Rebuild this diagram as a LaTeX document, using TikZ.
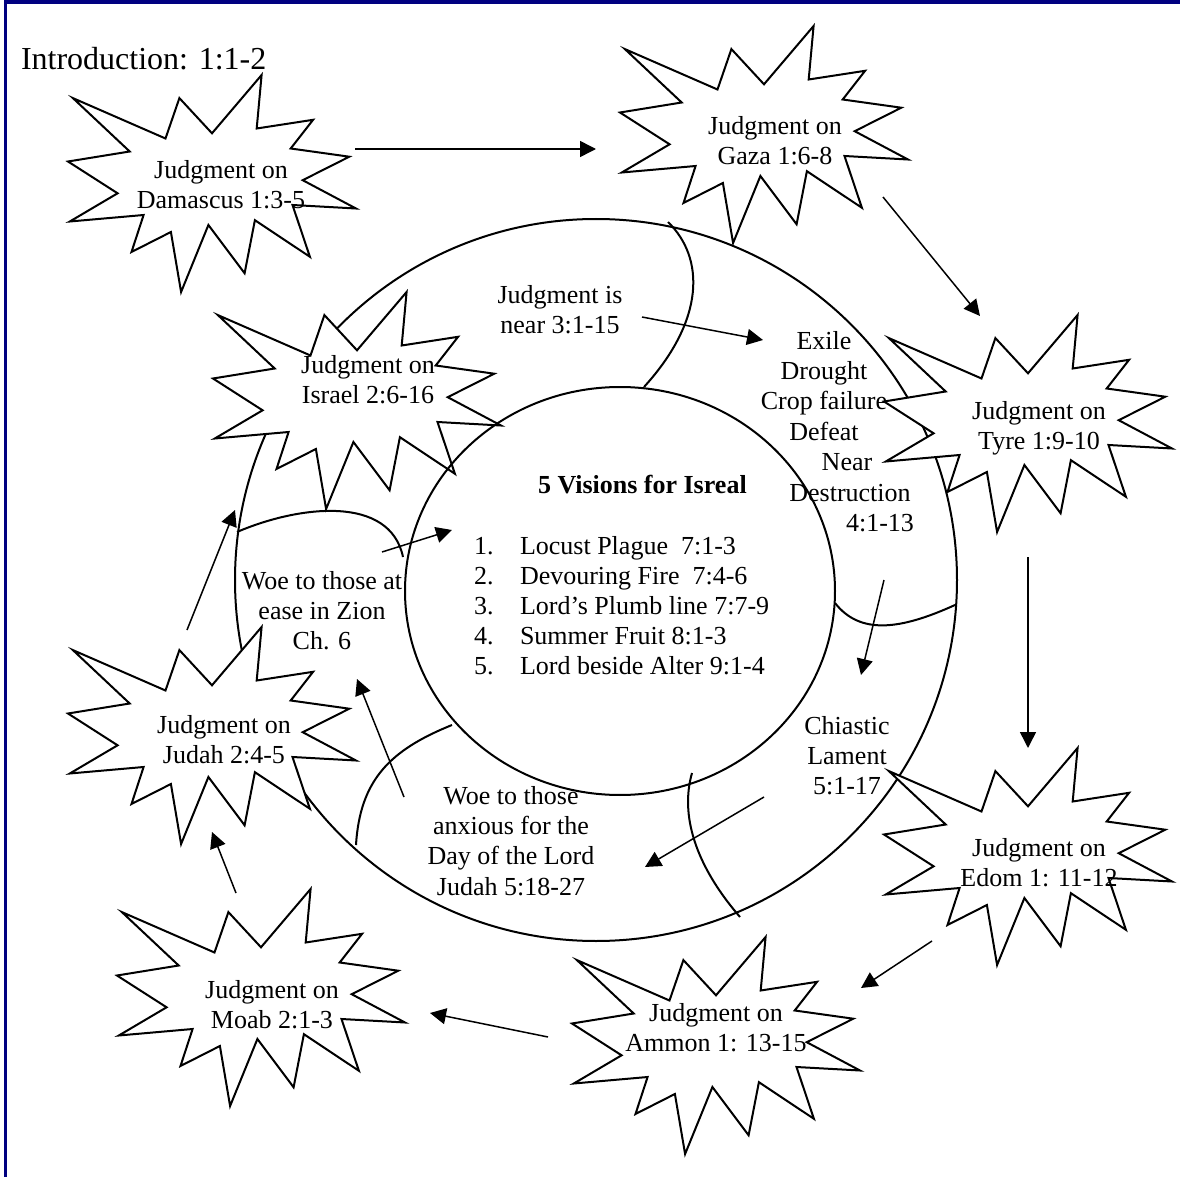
\documentclass[tikz,border=0pt]{standalone}
\usepackage{fontspec}
\setmainfont{Liberation Serif}
\usetikzlibrary{arrows.meta}

\definecolor{framenavy}{RGB}{0,0,128}

\tikzset{
  burst/.pic={
    \draw[fill=white] (144,58.3) -- (193.6,0) -- (188.7,53.5) -- (245.1,44.8) -- (222.7,73.5)
      -- (281.3,81.7) -- (234.7,105.2) -- (288,133.5) -- (224.5,130) -- (241.9,181.8)
      -- (186.9,145.2) -- (176.6,198.3) -- (140.4,150) -- (113.1,217) -- (102.9,157)
      -- (63.5,177) -- (75.6,140) -- (1.8,146.5) -- (49.6,118.3) -- (0,86.5)
      -- (61.7,76.5) -- (4.9,23.1) -- (97.5,63.5) -- (111.4,23.1) -- cycle;
  },
  burstlabel/.style={font=\fontsize{13}{15.2}\selectfont,align=center,anchor=north,inner sep=0pt},
  ringlabel/.style={font=\fontsize{13}{15.2}\selectfont,align=center,anchor=north,inner sep=0pt},
  listtext/.style={font=\fontsize{13}{15}\selectfont,anchor=base west,inner sep=0pt},
  flow/.style={-{Triangle[length=8pt,width=8pt]},line width=0.75pt},
}

\begin{document}
\begin{tikzpicture}[x=0.5pt,y=-0.5pt,line width=1pt]
\useasboundingbox (0,0) rectangle (1180,1177);

% frame
\fill[framenavy] (4,0) rectangle (1180,4);
\fill[framenavy] (4,0) rectangle (7,1177);

\node[anchor=base west,inner sep=0pt,font=\fontsize{16}{19}\selectfont] (intro) at (20,70) {Introduction: 1:1-2};

% ring
\coordinate (ringc) at (596,580);
\draw (ringc) circle [radius=361];

% dividers
\draw (668,222) .. controls (705,258) and (705,320) .. (644,387);
\draw (237,532) .. controls (300,505) and (390,495) .. (403,557);
\draw (835,603) .. controls (860,635) and (900,630) .. (955,605);
\draw (452,725) .. controls (390,750) and (360,780) .. (356,845);
\draw (692,773) .. controls (680,815) and (695,865) .. (740,917);

% bursts
\pic at (68,75) {burst};
\pic at (620,26) {burst};
\pic at (213,292) {burst};
\pic at (884,315) {burst};
\pic at (884,748) {burst};
\pic at (572,937) {burst};
\pic at (117,889) {burst};
\pic at (68,627) {burst};

% inner circle
\coordinate (visc) at (620,591);
\draw (visc) ellipse [x radius=215, y radius=204];

\node[burstlabel] (damascus) at (221,159) {Judgment on\\Damascus 1:3-5};
\node[burstlabel] (gaza) at (775,115) {Judgment on\\Gaza 1:6-8};
\node[burstlabel] (israel) at (368,354) {Judgment on\\Israel 2:6-16};
\node[burstlabel] (tyre) at (1039,400) {Judgment on\\Tyre 1:9-10};
\node[burstlabel] (edom) at (1039,837) {Judgment on\\Edom 1: 11-12};
\node[burstlabel] (ammon) at (716,1002) {Judgment on\\Ammon 1: 13-15};
\node[burstlabel] (moab) at (272,979) {Judgment on\\Moab 2:1-3};
\node[burstlabel] (judah) at (224,714) {Judgment on\\Judah 2:4-5};

\node[ringlabel] (near) at (560,284) {Judgment is\\near 3:1-15};
\node[ringlabel] (exile) at (824,330) {Exile\\Drought\\Crop failure\\Defeat\\\hspace*{23pt}Near\\\hspace*{26pt}Destruction\\\hspace*{56pt}4:1-13};
\node[ringlabel] (chiastic) at (847,715) {Chiastic\\Lament\\5:1-17};
\node[ringlabel] (anxious) at (511,785) {Woe to those\\anxious for the\\Day of the Lord\\Judah 5:18-27};
\node[ringlabel] (ease) at (322,570) {Woe to those at\\ease in Zion\\Ch. 6};

% visions
\node[listtext,font=\fontsize{13}{15}\selectfont\bfseries] (visions) at (537,493) {5 Visions for Isreal};
\foreach \i/\txt in {1/Locust Plague\ \ 7:1-3, 2/Devouring Fire\ \ 7:4-6,
    3/Lord’s Plumb line 7:7-9, 4/Summer Fruit 8:1-3, 5/Lord beside Alter 9:1-4} {
  \node[listtext] (num\i) at (473,{524+30*\i}) {\i.};
  \node[listtext] (item\i) at (519,{524+30*\i}) {\txt};
}

% arrows
\coordinate (dgA) at (355,149);
\coordinate (dgB) at (596,149);
\coordinate (gtA) at (883,197);
\coordinate (gtB) at (980,316);
\coordinate (teA) at (1028,557);
\coordinate (teB) at (1028,748);
\coordinate (eaA) at (932,941);
\coordinate (eaB) at (861,988);
\coordinate (amA) at (548,1037);
\coordinate (amB) at (430,1013);
\coordinate (mjA) at (236,893);
\coordinate (mjB) at (212,832);
\coordinate (jiA) at (187,630);
\coordinate (jiB) at (235,510);
\coordinate (evA) at (382,552);
\coordinate (evB) at (452,530);
\coordinate (neA) at (642,317);
\coordinate (neB) at (763,340);
\coordinate (ecA) at (884,580);
\coordinate (ecB) at (861,675);
\coordinate (caA) at (764,797);
\coordinate (caB) at (645,867);
\coordinate (axA) at (404,797);
\coordinate (axB) at (357,679);

\draw[flow] (dgA) -- (dgB);
\draw[flow] (gtA) -- (gtB);
\draw[flow] (teA) -- (teB);
\draw[flow] (eaA) -- (eaB);
\draw[flow] (amA) -- (amB);
\draw[flow] (mjA) -- (mjB);
\draw[flow] (jiA) -- (jiB);
\draw[flow] (evA) -- (evB);
\draw[flow] (neA) -- (neB);
\draw[flow] (ecA) -- (ecB);
\draw[flow] (caA) -- (caB);
\draw[flow] (axA) -- (axB);
\end{tikzpicture}
\end{document}
